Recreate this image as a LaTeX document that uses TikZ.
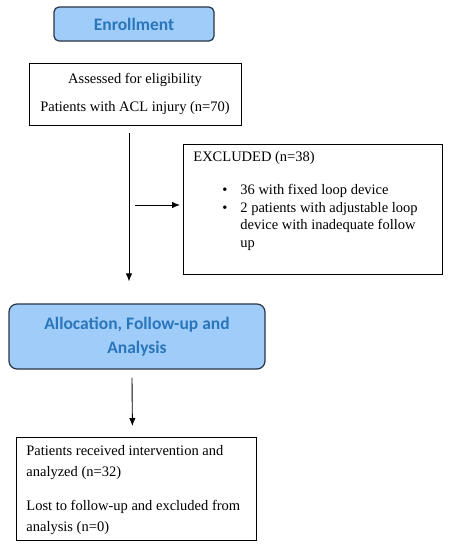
\documentclass[tikz,border=0pt]{standalone}
\usepackage{fontspec}
\setmainfont{Liberation Serif}
\newfontfamily\headfont{Carlito}
\usetikzlibrary{arrows.meta,positioning,calc}
\definecolor{headfill}{RGB}{160,204,250}
\definecolor{headtext}{RGB}{42,118,186}
\definecolor{headline}{RGB}{40,52,66}

\begin{document}
\begin{tikzpicture}[x=1pt,y=-1pt,
  font=\fontsize{14.5}{17.7}\selectfont,
  headbox/.style={draw=headline, line width=1.2pt, fill=headfill, rounded corners=6pt,
    text=headtext, align=center, font=\headfont\bfseries\fontsize{17.5}{24}\selectfont},
  textbox/.style={draw, line width=0.8pt},
  arr/.style={line width=0.9pt, -{Latex[length=8pt,width=6.5pt]}}]

\useasboundingbox (0,0) rectangle (449,550);

\node[headbox, minimum width=160pt, minimum height=34pt, rounded corners=5pt] (enroll) at (134,24) {Enrollment};
\node[textbox, minimum width=212pt, minimum height=62pt, align=center, font=\fontsize{14.5}{28}\selectfont] (assess) at (135,94) {Assessed for eligibility\\Patients with ACL injury (n=70)};

\node[textbox, anchor=north west, inner xsep=10pt, inner ysep=7pt] (excl) at (183,144) {%
  \parbox[c][116pt][t]{239pt}{\raggedright
  EXCLUDED (n=38)\par\vspace{15.3pt}
  \hspace*{29pt}\makebox[18pt][l]{\textbullet}36 with fixed loop device\par
  \hspace*{29pt}\makebox[18pt][l]{\textbullet}2 patients with adjustable loop\par
  \hspace*{47pt}device with inadequate follow\par
  \hspace*{47pt}up\par}};

\node[headbox, minimum width=256pt, minimum height=65pt, rounded corners=8pt] (alloc) at (137,336.5) {Allocation, Follow-up and\\Analysis};

\node[textbox, anchor=north west, inner xsep=10pt, inner ysep=8pt] (result) at (16,437) {%
  \parbox[c][87pt][t]{220pt}{\fontsize{14.5}{21}\selectfont\raggedright
  Patients received intervention and\\analyzed (n=32)\par\vspace{13pt}
  Lost to follow-up and excluded from\\analysis (n=0)\par}};

\coordinate (branch) at (135,205);

\draw[arr] ($(assess.south)+(-6,8)$) -- ($(alloc.north)+(-8,-22)$);
\draw[arr, shorten >=3pt] (branch) -- (branch -| excl.west);
\draw[arr] ($(alloc.south)+(-5,8)$) -- ($(result.north)+(-4,-11)$);
\end{tikzpicture}
\end{document}
